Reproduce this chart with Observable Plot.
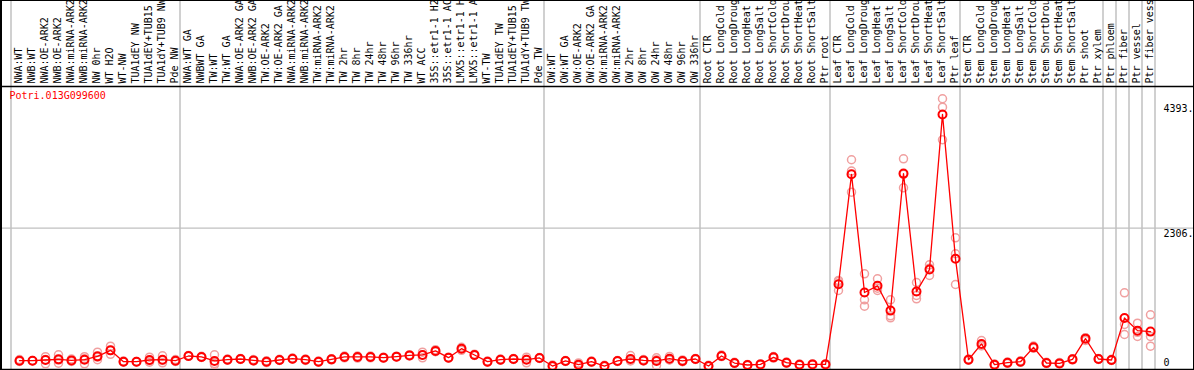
<!DOCTYPE html>
<html>
<head>
<meta charset="utf-8">
<script src="https://cdn.jsdelivr.net/npm/d3@7"></script>
<script src="https://cdn.jsdelivr.net/npm/@observablehq/plot@0.6"></script>
<style>
  html, body { margin: 0; padding: 0; background: #fff; }
  #wrap { position: relative; width: 1194px; height: 370px; overflow: hidden; }
  #border { position: absolute; left: 0; top: 0; width: 1194px; height: 370px; box-sizing: border-box; border: 1px solid #000; border-left-width: 2px; pointer-events: none; }
</style>
</head>
<body>
<div id="wrap"><div id="border"></div></div>
<script>
const gene = "Potri.013G099600";

const labels = [
  "NWA:WT","NWB:WT","NWA:OE-ARK2","NWB:OE-ARK2","NWA:miRNA-ARK2","NWB:miRNA-ARK2","NW 0hr","WT H2O","WT-NW","TUA1dEY NW",
  "TUA1dEY+TUB15 NW","TUA1dY+TUB9 NW","Pde NW","NWA:WT GA","NWBWT GA","TW:WT","TW:WT GA","NWA:OE-ARK2 GA","NWB:OE-ARK2 GA","TW:OE-ARK2",
  "TW:OE-ARK2 GA","NWA:miRNA-ARK2","NWB:miRNA-ARK2","TW:miRNA-ARK2","TW:miRNA-ARK2","TW 2hr","TW 8hr","TW 24hr","TW 48hr","TW 96hr",
  "TW 336hr","WT ACC","35S::etr1-1 H2O","35S::etr1-1 ACC","LMX5::etr1-1 H2O","LMX5::etr1-1 ACC","WT-TW","TUA1dEY TW","TUA1dEY+TUB15 TW","TUA1dY+TUB9 TW",
  "Pde TW","OW:WT","OW:WT GA","OW:OE-ARK2","OW:OE-ARK2 GA","OW:miRNA-ARK2","OW:miRNA-ARK2","OW 2hr","OW 8hr","OW 24hr",
  "OW 48hr","OW 96hr","OW 336hr","Root CTR","Root LongCold","Root LongDrought","Root LongHeat","Root LongSalt","Root ShortCold","Root ShortDrought",
  "Root ShortHeat","Root ShortSalt","Ptr root","Leaf CTR","Leaf LongCold","Leaf LongDrought","Leaf LongHeat","Leaf LongSalt","Leaf ShortCold","Leaf ShortDrought",
  "Leaf ShortHeat","Leaf ShortSalt","Ptr leaf","Stem CTR","Stem LongCold","Stem LongDrought","Stem LongHeat","Stem LongSalt","Stem ShortCold","Stem ShortDrought",
  "Stem ShortHeat","Stem ShortSalt","Ptr shoot","Ptr xylem","Ptr phloem","Ptr fiber","Ptr vessel","Ptr fiber vessel"
];

const means = [
  97,97,108,119,102,113,169,269,80,80,
  108,113,97,175,159,92,113,125,102,80,
  108,130,113,80,119,159,159,159,147,164,
  185,192,259,147,297,192,80,113,125,113,
  142,8,92,30,80,8,92,125,102,92,
  130,92,125,8,175,58,25,35,152,63,
  30,35,35,1371,3201,1232,1344,931,3213,1248,
  1616,4199,1794,113,376,30,63,80,319,58,
  52,119,464,125,108,809,597,581
];

const rep1 = [
  115,100,164,195,125,130,238,338,90,85,
  155,178,115,185,170,195,125,135,115,95,
  120,140,125,90,130,175,175,175,155,170,
  195,238,280,155,320,205,90,125,135,155,
  150,24,100,60,90,20,100,183,115,145,
  167,110,135,20,190,70,35,45,165,75,
  40,45,45,1433,3444,1544,1461,1111,3460,1399,
  1694,4460,2144,125,433,40,75,95,340,70,
  65,130,480,135,120,1228,721,861
];

const rep2 = [
  85,95,45,55,85,45,155,267,75,78,
  72,100,85,170,150,50,105,118,95,65,
  100,122,100,72,110,145,140,145,140,158,
  178,145,250,140,270,185,72,105,118,62,
  135,0,85,15,72,0,85,100,95,17,
  110,85,118,0,165,50,18,28,140,55,
  22,28,28,1266,2904,1111,1266,845,2977,1183,
  1516,4320,1878,105,350,22,52,70,305,48,
  42,110,433,118,100,700,500,500
];

const rep3 = [
  91,96,115,107,96,164,114,202,75,77,
  97,61,91,170,157,31,109,122,96,80,
  104,128,114,78,117,157,162,157,146,164,
  182,193,247,146,301,186,78,109,122,122,
  141,0,91,15,78,4,91,92,96,114,
  113,81,122,4,170,54,22,32,151,59,
  28,32,32,1414,3255,1005,1305,811,3202,1128,
  1638,3777,1366,109,345,28,62,75,312,56,
  49,117,479,122,104,533,570,338
];

// column index where each group starts (vertical separators)
const groupStarts = [0, 13, 41, 53, 63, 73, 84, 85, 86, 87, 88];
const gridValues = [2306];
const tickValues = [4393, 2306];
const tickLabels = ["4393.", "2306."];
const zeroLabel = "0";
const maxChars = 14; // header labels are cut at the image top in the reference

const rows = labels.map((label, i) => ({i, label, mean: means[i]}));
const reps = [];
[rep1, rep2, rep3].forEach(r => r.forEach((v, i) => reps.push({i, v})));
const ticks = tickValues.map((v, k) => ({v, t: tickLabels[k]}));

const chart = Plot.plot({
  width: 1194,
  height: 370,
  marginTop: 86,
  marginBottom: 4,
  marginLeft: 0,
  marginRight: 0,
  x: {domain: [0, labels.length - 1], range: [19, 1150], axis: null},
  y: {domain: [0, 4664], axis: null},
  style: {fontFamily: "'DejaVu Sans Mono', monospace", fontSize: "10px", background: "#fff"},
  marks: [
    Plot.ruleY(gridValues, {stroke: "#c0c0c0", strokeWidth: 1.2}),
    Plot.ruleX(groupStarts, {x: d => d - 8.5 / 13, stroke: "#c0c0c0", strokeWidth: 1.5, insetTop: -86, insetBottom: -4}),
    Plot.frame({stroke: "#000", strokeWidth: 1.5, insetBottom: -3}),
    Plot.text(rows, {x: "i", text: d => d.label.slice(0, maxChars).trimEnd(), frameAnchor: "top", dy: -3, dx: -1, rotate: -90, textAnchor: "start", lineAnchor: "middle", fill: "#000", fontSize: 10}),
    Plot.text([gene], {text: d => d, frameAnchor: "top-left", dx: 9, dy: 5, textAnchor: "start", lineAnchor: "top", fill: "red", fontSize: 10}),
    Plot.text(ticks, {y: "v", text: "t", frameAnchor: "right", dx: -31, dy: 2, textAnchor: "start", lineAnchor: "top", fill: "#000", fontSize: 10}),
    Plot.text([0], {y: d => d, text: () => zeroLabel, frameAnchor: "right", dx: -31, dy: -1, textAnchor: "start", lineAnchor: "bottom", fill: "#000", fontSize: 10}),
    Plot.dot(reps, {x: "i", y: "v", r: 4, stroke: "#f0a0a0", strokeWidth: 1.5, fill: "none"}),
    Plot.line(rows, {x: "i", y: "mean", stroke: "red", strokeWidth: 1.3}),
    Plot.dot(rows, {x: "i", y: "mean", r: 4, stroke: "red", strokeWidth: 2, fill: "none"})
  ]
});
document.getElementById("wrap").prepend(chart);
</script>
</body>
</html>
